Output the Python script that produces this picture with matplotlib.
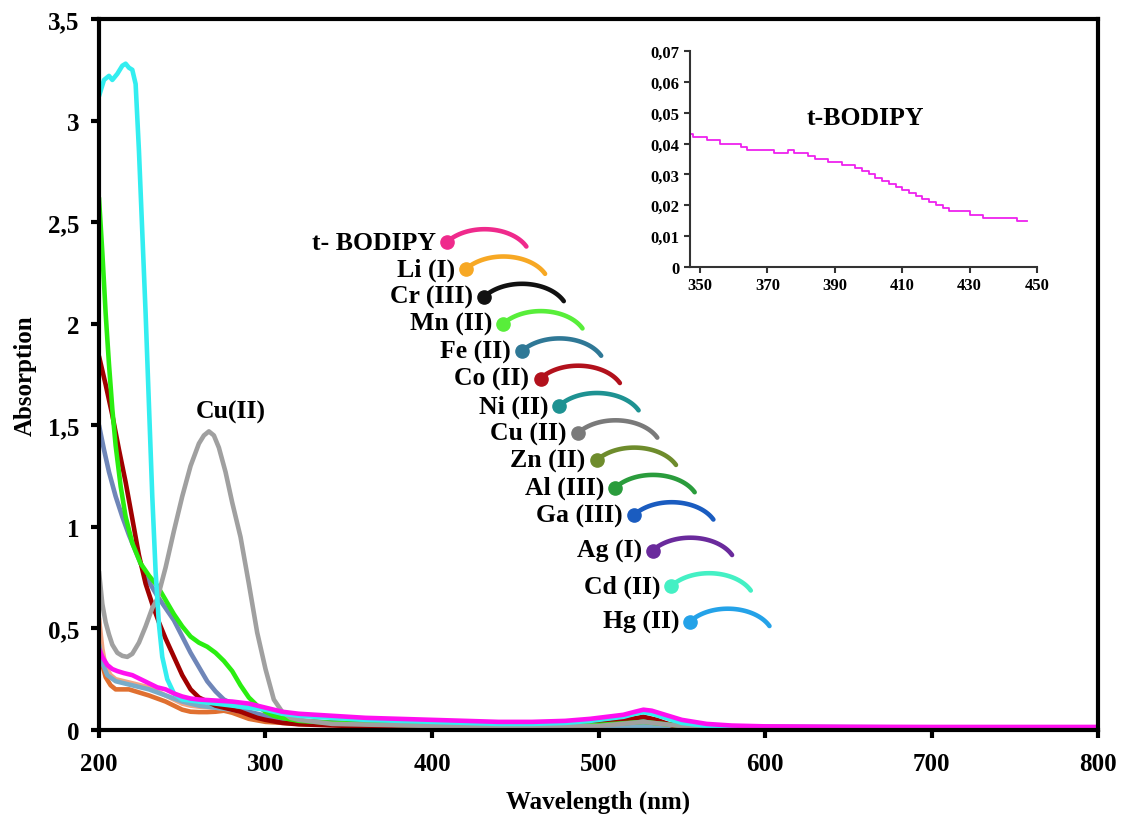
import matplotlib
matplotlib.use("Agg")
import matplotlib.pyplot as plt
from matplotlib.lines import Line2D
import numpy as np

plt.rcParams['font.family'] = ['Liberation Serif', 'DejaVu Serif']
plt.rcParams['font.weight'] = 'bold'

# ---- main spectra (wavelength nm, absorbance) ----
cyan_wl = [200, 203, 206, 208, 211, 214, 216, 218, 220, 222, 224, 226, 228, 230, 232, 234, 236, 238,
           241, 245, 250, 260, 270, 280, 290, 300, 310, 320, 340, 360, 380, 400, 420, 440, 460, 480,
           495, 505, 515, 522, 527, 532, 540, 550, 565, 580, 600, 650, 700, 800]
cyan_abs = [3.12, 3.2, 3.22, 3.2, 3.23, 3.27, 3.28, 3.26, 3.25, 3.18, 2.85, 2.45, 2.05, 1.6, 1.15, 0.78,
            0.52, 0.36, 0.25, 0.18, 0.15, 0.14, 0.13, 0.12, 0.11, 0.1, 0.08, 0.07, 0.06, 0.05, 0.045,
            0.04, 0.035, 0.03, 0.03, 0.035, 0.045, 0.055, 0.065, 0.08, 0.088, 0.08, 0.06, 0.035, 0.02,
            0.015, 0.012, 0.01, 0.01, 0.01]

green_wl = [200, 202, 204, 206, 208, 210, 213, 216, 220, 225, 230, 235, 240, 245, 250, 255, 260, 265,
            270, 275, 280, 285, 290, 295, 300, 305, 310, 320, 340, 380, 450, 500, 527, 550, 600, 700, 800]
green_abs = [2.62, 2.35, 2.05, 1.8, 1.58, 1.4, 1.2, 1.05, 0.92, 0.82, 0.76, 0.71, 0.64, 0.57, 0.51, 0.46,
             0.43, 0.41, 0.38, 0.34, 0.29, 0.22, 0.16, 0.12, 0.09, 0.07, 0.06, 0.045, 0.035, 0.025,
             0.02, 0.025, 0.04, 0.02, 0.01, 0.008, 0.008]

red_wl = [200, 204, 208, 212, 216, 220, 224, 228, 232, 236, 240, 245, 250, 255, 260, 265, 270, 275, 280,
          285, 290, 295, 300, 310, 320, 350, 400, 450, 490, 510, 520, 527, 535, 545, 560, 600, 700, 800]
red_abs = [1.84, 1.7, 1.55, 1.38, 1.22, 1.04, 0.86, 0.72, 0.62, 0.53, 0.45, 0.36, 0.27, 0.2, 0.16, 0.14,
           0.12, 0.11, 0.1, 0.09, 0.075, 0.06, 0.05, 0.035, 0.028, 0.02, 0.015, 0.012, 0.02, 0.04, 0.055,
           0.065, 0.05, 0.02, 0.008, 0.005, 0.005, 0.005]

slate_wl = [200, 203, 206, 210, 214, 218, 222, 226, 230, 235, 240, 245, 250, 255, 260, 265, 270, 275,
            280, 285, 290, 300, 310, 330, 360, 400, 450, 500, 527, 550, 600, 800]
slate_abs = [1.5, 1.38, 1.27, 1.15, 1.05, 0.96, 0.88, 0.8, 0.73, 0.66, 0.6, 0.54, 0.46, 0.38, 0.31, 0.24,
             0.19, 0.15, 0.13, 0.11, 0.09, 0.07, 0.05, 0.04, 0.03, 0.025, 0.02, 0.03, 0.05, 0.02, 0.01,
             0.008]

cu_wl = [200, 202, 204, 206, 208, 211, 214, 217, 220, 224, 228, 232, 235, 240, 245, 250, 255, 260, 263,
         266, 269, 272, 276, 280, 285, 290, 295, 300, 305, 310, 315, 320, 340, 400, 500, 527, 560, 800]
cu_abs = [0.78, 0.62, 0.53, 0.47, 0.42, 0.38, 0.365, 0.36, 0.375, 0.43, 0.51, 0.6, 0.645, 0.8, 0.98,
          1.15, 1.3, 1.41, 1.45, 1.47, 1.45, 1.39, 1.27, 1.12, 0.95, 0.72, 0.48, 0.3, 0.15, 0.09, 0.06,
          0.05, 0.03, 0.02, 0.02, 0.04, 0.01, 0.005]

mag_wl = [200, 202, 205, 208, 211, 215, 220, 225, 230, 235, 240, 245, 250, 255, 260, 270, 280, 290, 300,
          310, 320, 340, 360, 380, 400, 420, 440, 460, 480, 495, 505, 515, 522, 527, 532, 540, 550, 565,
          580, 600, 650, 700, 800]
mag_abs = [0.40, 0.36, 0.32, 0.3, 0.29, 0.28, 0.27, 0.25, 0.23, 0.21, 0.2, 0.18, 0.165, 0.155, 0.15,
           0.145, 0.14, 0.13, 0.11, 0.09, 0.08, 0.07, 0.06, 0.055, 0.05, 0.045, 0.04, 0.04, 0.045, 0.055,
           0.065, 0.075, 0.09, 0.1, 0.095, 0.075, 0.05, 0.03, 0.022, 0.018, 0.016, 0.015, 0.015]

orange_wl = [200, 202, 204, 207, 210, 214, 218, 222, 226, 230, 235, 240, 245, 250, 255, 260, 265, 270,
             275, 280, 285, 290, 300, 320, 360, 400, 800]
orange_abs = [0.45, 0.32, 0.26, 0.22, 0.2, 0.2, 0.2, 0.19, 0.18, 0.17, 0.155, 0.14, 0.12, 0.1, 0.09,
              0.088, 0.088, 0.09, 0.095, 0.085, 0.07, 0.055, 0.04, 0.03, 0.02, 0.015, 0.005]

salmon_wl = [200, 202, 204, 207, 210, 215, 220, 225, 230, 235, 240, 245, 250, 255, 260, 270, 280, 290,
             300, 320, 360, 400, 800]
salmon_abs = [0.55, 0.4, 0.31, 0.27, 0.25, 0.24, 0.23, 0.22, 0.21, 0.19, 0.17, 0.15, 0.13, 0.12, 0.115,
              0.11, 0.1, 0.08, 0.06, 0.04, 0.03, 0.02, 0.008]

steel_wl = [200, 202, 205, 210, 215, 220, 230, 240, 250, 260, 270, 280, 290, 300, 320, 360, 400, 800]
steel_abs = [0.42, 0.33, 0.27, 0.24, 0.23, 0.22, 0.2, 0.17, 0.14, 0.12, 0.11, 0.1, 0.085, 0.065, 0.045,
             0.03, 0.025, 0.008]

# inset: t-BODIPY alone
ins_wl = list(range(347, 449, 2))
ins_abs = [0.043, 0.042, 0.042, 0.041, 0.041, 0.040, 0.040, 0.040, 0.039, 0.038, 0.038, 0.038, 0.038,
           0.037, 0.037, 0.038, 0.037, 0.037, 0.036, 0.035, 0.035, 0.034, 0.034, 0.033, 0.033, 0.032,
           0.031, 0.030, 0.029, 0.028, 0.027, 0.026, 0.025, 0.024, 0.023, 0.022, 0.021, 0.020, 0.019,
           0.018, 0.018, 0.018, 0.017, 0.017, 0.016, 0.016, 0.016, 0.016, 0.016, 0.015, 0.015]

# legend keys
key_labels = ['t- BODIPY', 'Li (I)', 'Cr (III)', 'Mn (II)', 'Fe (II)', 'Co (II)', 'Ni (II)', 'Cu (II)',
              'Zn (II)', 'Al (III)', 'Ga (III)', 'Ag (I)', 'Cd (II)', 'Hg (II)']
key_colors = ['#ef2a8c', '#f7a824', '#111111', '#58ee3a', '#2f7896', '#b2111c', '#1e9292', '#7a7a7a',
              '#6e8c2c', '#2a9c3c', '#1a5cc0', '#6a2a9c', '#44f0c4', '#24a2e8']

W, H = 1124, 820
fig = plt.figure(figsize=(W / 100, H / 100), dpi=100)
ax = fig.add_axes([99 / W, 1 - 731 / H, (1098 - 99) / W, (731 - 20) / H])

series = [
    (orange_wl, orange_abs, '#e07030'),
    (salmon_wl, salmon_abs, '#f0a585'),
    (steel_wl, steel_abs, '#78acc8'),
    (slate_wl, slate_abs, '#6f86b8'),
    (red_wl, red_abs, '#a00000'),
    (green_wl, green_abs, '#2aee10'),
    (cu_wl, cu_abs, '#a0a0a0'),
    (cyan_wl, cyan_abs, '#33eef0'),
    (mag_wl, mag_abs, '#ff10f0'),
]
for wl, a, c in series:
    ax.plot(wl, a, color=c, lw=3.3, solid_joinstyle='round', solid_capstyle='round')

ax.set_xlim(200, 800)
ax.set_ylim(0, 3.5)
ax.set_xticks(np.arange(200, 801, 100))
yt = np.arange(0, 3.51, 0.5)
ax.set_yticks(yt)
ax.set_yticklabels([f"{v:g}".replace('.', ',') for v in yt])
for s in ax.spines.values():
    s.set_linewidth(3)
ax.tick_params(direction='out', length=6, width=3, labelsize=18)
ax.tick_params(axis='x', pad=10)
ax.tick_params(axis='y', pad=8)
ax.set_xlabel('Wavelength (nm)', fontsize=18, fontweight='bold', labelpad=10)
ax.set_ylabel('Absorption', fontsize=18, fontweight='bold', labelpad=8)
ax.text(279, 1.57, 'Cu(II)', fontsize=18.5, fontweight='bold', ha='center', va='center')

# legend arcs with dots, drawn in figure pixels
t = np.linspace(np.radians(145), np.radians(25), 40)
for i, (lab, c) in enumerate(zip(key_labels, key_colors)):
    dx = 447 + 18.7 * i
    dy = 243 + 27.3 * i + 8.2 * max(0, i - 10)
    ax_ = dx + 46 * (np.cos(t) - np.cos(t[0]))
    ay_ = dy - 30 * (np.sin(t) - np.sin(t[0]))
    fig.add_artist(Line2D(ax_ / W, 1 - ay_ / H, color=c, lw=3.3, solid_capstyle='round'))
    fig.add_artist(Line2D([dx / W], [1 - dy / H], color=c, marker='o', markersize=9.5, lw=0))
    fig.text((dx - 11) / W, 1 - dy / H, lab, fontsize=18.5, fontweight='bold', ha='right', va='center')

# inset
ins = fig.add_axes([690 / W, 1 - 268 / H, (1037 - 690) / W, (268 - 52) / H])
ins.plot(ins_wl, ins_abs, color='#ee22ee', lw=1.3, drawstyle='steps-mid')
ins.set_xlim(347, 450)
ins.set_ylim(0, 0.07)
ins.set_xticks(np.arange(350, 451, 20))
it = np.arange(0, 0.0701, 0.01)
ins.set_yticks(it)
ins.set_yticklabels(['0'] + [f"{v:.2f}".replace('.', ',') for v in it[1:]])
for k in ['top', 'right']:
    ins.spines[k].set_visible(False)
for k in ['left', 'bottom']:
    ins.spines[k].set_linewidth(1.5)
    ins.spines[k].set_color('#333333')
ins.tick_params(direction='out', length=4, width=1.5, color='#333333', labelsize=12)
ins.text(399, 0.0486, 't-BODIPY', fontsize=18.5, fontweight='bold', ha='center', va='center')

fig.savefig('out.png', dpi=100)
